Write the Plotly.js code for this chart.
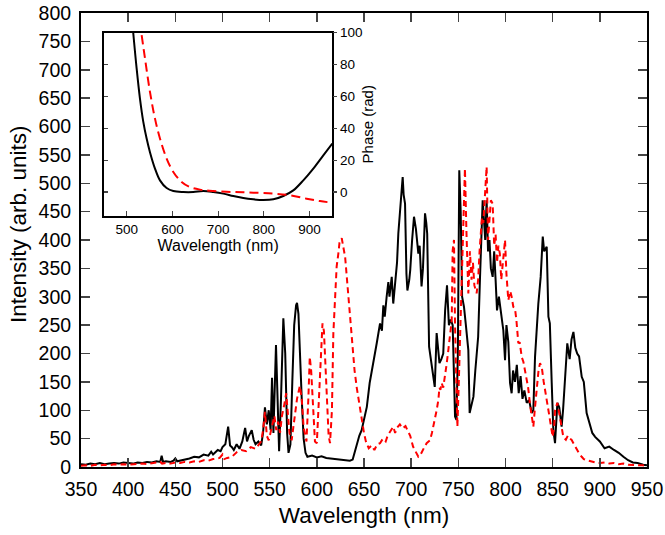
<!DOCTYPE html>
<html><head><meta charset="utf-8">
<script src="https://cdn.plot.ly/plotly-3.0.1.min.js"></script>
<style>html,body{margin:0;padding:0;background:#fff}#chart{width:665px;height:535px}</style>
</head><body><div id="chart"></div>
<script>
// Main spectrum: black solid series
const wlBlack = [350,355,360,365,370,375,380,385,390,395,400,405,410,415,420,425,430,434,435.5,437,440,445,448,450,452,455,460,465,470,475,480,485,488,490,495,498,500,503,506,508,510,512,515,518,521,524,526,528,531,533,535,538,541,543,545,547,549,551,552.5,554,556.7,558.5,560,562,564.5,566.5,568.5,570,572,574,576,578,579,580.5,582,584,586,588,590,595,600,605,610,615,620,625,630,635,638,640,642,645,647.5,650,653,656,660,663.5,667,669,670.5,672,674,675.8,677,679.4,681,683,685,686.4,688,689,691,692,693.5,695,696,698,699,701,703,705,707.6,709,711,712.5,714.7,716,717,719,721,723,725,727,729,730,732,734,736,738,740,742,744,746.5,748,749.5,751,752.5,754,756,758,760.6,762,764,766,768,769.5,771,773,774,775.8,777,778.5,780,781.5,783,784.5,786.4,788,789.5,791,793,795,797.7,799.5,801,803,804.8,806.5,808,810,812,814,816,818,820,822.5,825,827.8,829.5,831.3,833,834.8,837.3,839.5,841,843.7,845.5,847,849,850.7,852.5,855,857,859.5,861,863,865.5,868,870,872,874,876,878,880.8,883,886,889.6,892,895,900,905,910,915,920,925,930,935,940,946,950];
const intBlack = [5,4,6,5,7,5,6,7,6,8,7,6,8,7,9,8,10,9,20,9,10,9,11,15,10,11,12,15,18,17,22,20,27,22,30,28,35,40,71,38,35,30,40,32,45,69,45,55,65,48,40,45,38,60,105,75,100,65,157,60,215,100,28,120,262,200,60,25,40,150,250,285,289,270,200,120,50,25,18,20,17,19,16,15,14,12,11,11,13,25,40,55,65,85,106,148,183,218,253,240,285,265,300,326,300,335,288,320,360,412,450,464,511,480,464,340,311,330,347,400,441,420,376,390,318,350,447,430,411,212,188,170,141,236,195,183,190,200,276,320,250,260,250,89,83,200,523,450,300,282,250,206,95,110,124,170,206,229,335,380,470,440,400,470,380,400,350,335,380,330,276,300,270,241,188,250,220,148,130,170,150,180,130,160,120,135,113,118,95,100,194,240,288,335,406,380,388,265,253,148,65,42,113,105,71,100,148,218,190,225,238,210,200,195,159,150,95,71,60,53,45,33,36,30,25,18,12,8,7,4,3];

// Main spectrum: red dashed series
const wlRed = [350,355,360,365,370,375,380,385,390,395,400,405,410,415,420,425,430,434,436,440,445,450,455,460,465,470,475,480,485,490,495,497,500,502,505,510,515,520,525,530,535,538,541,543,545,547,549,552,555,557,559,561,563,565.5,567.5,569,571,573.3,576,579,582,584,586,589,591,592.5,594,596,598,600,602,604,606,607.5,609,611,612.5,614,616,617.5,619,621,622.8,624,626.4,628,630,631.5,633.4,635,636.5,638.7,640,642.3,645,647.5,650,652,655,658,661,664,667,670,673,675,678,681,683,685,688,691,694,697,699,702,704,706,707.6,709.4,712,714,716.4,718,720,722,723.5,725.3,727,728.8,730,731,732.3,734,736,737.5,739.4,741,743,744,745.4,746.5,748,749,750.5,752,754,755.5,757,758.5,760.6,762.3,764,765.5,767,769.4,771,772.5,773.7,775,776.5,778.3,780,781.5,783,784.5,786.4,788,789.5,791,792.5,794,795.5,797.5,799.5,801,803,805,806.5,808.3,810,811.5,813.6,815,817.2,819,820.7,822.5,824,826,827.8,829.5,831,833,835,836.6,838.5,840.5,842,843.7,846,848,850,851.5,852.5,855,857,859,861.3,864,866,868,870,872,875.5,878,880.8,883,886,890,895,900,905,910,915,920,925,930,935,940,945,950];
const intRed = [2,3,2,4,3,4,3,5,4,5,4,5,5,6,5,6,7,9,6,7,6,8,7,9,8,10,9,12,11,14,15,16,22,14,16,18,26,30,28,35,32,38,45,65,97,55,47,68,90,65,80,60,90,110,130,100,60,47,80,120,143,120,70,45,120,194,170,100,45,42,120,200,253,240,180,90,55,42,100,235,300,353,376,395,403,390,370,340,300,276,230,188,170,140,110,85,60,45,33,38,30,40,42,50,45,55,62,71,60,69,75,68,72,60,55,36,30,25,18,20,30,35,42,45,47,60,71,89,100,118,140,136,148,140,160,180,206,230,259,382,400,250,120,71,150,230,330,450,526,420,306,380,330,360,320,306,330,380,417,440,430,480,529,400,430,470,464,390,410,360,390,376,330,360,400,340,294,310,300,282,280,260,218,220,194,185,171,150,140,110,89,71,100,140,170,183,175,150,130,118,95,70,53,70,100,113,95,70,53,48,55,50,48,42,30,24,18,14,12,10,8,7,8,6,7,5,6,4,4,3,3,2];

// Inset: phase curves
const wlPhaseBlack = [514,521.5,528.8,536.1,543.4,550.7,561.7,572.6,587.2,601.8,623.7,645.6,667.5,689.4,711.3,733.2,755.1,777,799,820.8,842.7,864.6,886.5,908.4,930.3,950];
const phaseBlack = [100,77.5,58.6,44,33.5,25,14.7,7.3,2.5,0.6,0,0,0.6,0,-1,-2.5,-3.8,-4.6,-5,-4.6,-2.5,1,7.3,14.7,23,30.4];
const wlPhaseRed = [532.5,539.8,550.7,561.7,572.6,587.2,601.8,620,638.3,660.2,689.4,733.2,777,820.8,857.3,893.8,923,950];
const phaseRed = [98.4,83.8,62.8,46,33.5,21,12.6,6.3,3.1,1.5,0.6,0,-0.4,-1,-2,-4.2,-5.7,-6.7];

const mainTicks = [350,400,450,500,550,600,650,700,750,800,850,900,950];
const insetXTicks = [500,600,700,800,900];
const phaseTicks = [0,20,40,60,80,100];

const FONT = 'Liberation Sans, Arial, sans-serif';

const traces = [
  {x: wlBlack, y: intBlack, type: 'scatter', mode: 'lines', line: {color: '#000000', width: 2}, xaxis: 'x', yaxis: 'y', hoverinfo: 'skip'},
  {x: wlRed, y: intRed, type: 'scatter', mode: 'lines', line: {color: '#ff0000', width: 2, dash: '6px,4px'}, xaxis: 'x', yaxis: 'y', hoverinfo: 'skip'},
  {x: wlPhaseBlack, y: phaseBlack, type: 'scatter', mode: 'lines', line: {color: '#000000', width: 2, shape: 'spline'}, xaxis: 'x2', yaxis: 'y2', hoverinfo: 'skip'},
  {x: wlPhaseRed, y: phaseRed, type: 'scatter', mode: 'lines', line: {color: '#ff0000', width: 2, dash: '9px,5px', shape: 'spline'}, xaxis: 'x2', yaxis: 'y3', hoverinfo: 'skip'}
];

const layout = {
  width: 665, height: 535,
  margin: {l: 81, r: 18, t: 13, b: 68, pad: 0},
  paper_bgcolor: '#ffffff', plot_bgcolor: 'rgba(0,0,0,0)',
  showlegend: false,
  font: {family: FONT, color: '#000000'},
  xaxis: {
    domain: [0, 1], range: [350, 950], tickvals: mainTicks, ticks: 'inside', ticklen: 9, tickwidth: 1.5,
    showline: true, linewidth: 2, linecolor: '#000', mirror: 'ticks', showgrid: false, zeroline: false,
    tickfont: {size: 19.5, family: FONT}, ticklabelstandoff: 4,
    title: {text: 'Wavelength (nm)', font: {size: 22.5, family: FONT}, standoff: 8}
  },
  yaxis: {
    domain: [0, 1], range: [0, 800], dtick: 50, tick0: 0, ticks: 'inside', ticklen: 9, tickwidth: 1.5,
    showline: true, linewidth: 2, linecolor: '#000', mirror: 'ticks', showgrid: false, zeroline: false,
    tickfont: {size: 19.5, family: FONT}, ticklabelstandoff: 4
  },
  xaxis2: {
    domain: [0.0406, 0.444], anchor: 'y2', range: [450, 950], tickvals: insetXTicks, ticks: 'inside', ticklen: 5, tickwidth: 1.2,
    showline: true, linewidth: 2, linecolor: '#000', mirror: true, showgrid: false, zeroline: false,
    tickfont: {size: 13.5, family: FONT}, title: {text: 'Wavelength (nm)', font: {size: 16, family: FONT}, standoff: 0}
  },
  yaxis2: {
    domain: [0.553, 0.957], anchor: 'x2', range: [-15, 100], tickvals: phaseTicks, ticks: 'inside', ticklen: 4, tickwidth: 1.2,
    showline: true, linewidth: 2, linecolor: '#000', mirror: true, showgrid: false, zeroline: false, showticklabels: false
  },
  yaxis3: {
    overlaying: 'y2', anchor: 'x2', side: 'right', range: [-15, 100], tickvals: phaseTicks, ticks: 'outside', ticklen: 4, tickwidth: 1.2,
    showline: false, showgrid: false, zeroline: false,
    tickfont: {size: 13.5, family: FONT}, title: {text: 'Phase (rad)', font: {size: 15, family: FONT}, standoff: 0}
  },
  annotations: [
    {text: 'Intensity (arb. units)', xref: 'paper', yref: 'paper', x: -0.1113, y: 0.535, xanchor: 'center', yanchor: 'middle',
     textangle: -90, showarrow: false, font: {size: 22.5, family: FONT, color: '#000'}}
  ]
};

Plotly.newPlot('chart', traces, layout, {staticPlot: true, displayModeBar: false});
</script>
</body></html>
